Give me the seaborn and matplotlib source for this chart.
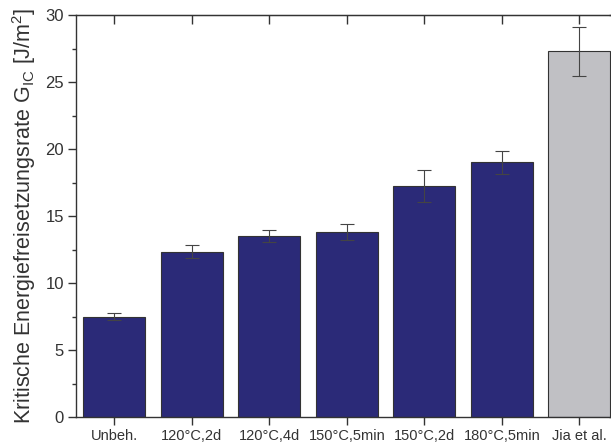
import matplotlib
matplotlib.use("Agg")
import matplotlib.pyplot as plt
import seaborn as sns
import pandas as pd
from matplotlib.ticker import MultipleLocator

# Werte
kategorien = ['Unbeh.', '120°C,2d', '120°C,4d', '150°C,5min', '150°C,2d', '180°C,5min', 'Jia et al.']
g_ic = [7.5, 12.35, 13.5, 13.8, 17.25, 19.02, 27.28]
fehler = [0.25, 0.5, 0.45, 0.6, 1.22, 0.85, 1.8]
farben = ['#2b2a78'] * 6 + ['#c0c0c4']

sns.set_style('ticks')
plt.rcParams['font.family'] = ['Liberation Sans', 'DejaVu Sans']
plt.rcParams['mathtext.fontset'] = 'custom'
plt.rcParams['mathtext.rm'] = 'Liberation Sans'

df = pd.DataFrame({'kategorie': kategorien, 'wert': g_ic})

fig = plt.figure(figsize=(6.11, 4.48), dpi=100)
ax = fig.add_axes([0.1237, 0.0685, 0.888, 0.898])

sns.barplot(data=df, x='kategorie', y='wert', hue='kategorie', palette=farben,
            legend=False, errorbar=None, width=0.8, edgecolor='#333333',
            linewidth=0.8, saturation=1, ax=ax)
ax.errorbar(range(len(kategorien)), g_ic, yerr=fehler, fmt='none',
            ecolor='#444444', elinewidth=0.8, capsize=5, capthick=0.8)

ax.set_xlim(-0.5, 6.5)
ax.set_ylim(0, 30)
ax.yaxis.set_major_locator(MultipleLocator(5))
ax.yaxis.set_minor_locator(MultipleLocator(2.5))

for s in ax.spines.values():
    s.set_linewidth(1.0)
    s.set_color('#333333')

ax.tick_params(axis='y', which='major', direction='out', length=5.5, width=1,
               labelsize=12, colors='#333333', labelcolor='#333333', pad=3)
ax.tick_params(axis='y', which='minor', direction='out', length=3, width=1,
               colors='#333333')
ax.tick_params(axis='x', which='major', direction='out', length=5.5, width=1,
               labelsize=10.5, colors='#333333', labelcolor='#333333', pad=3)

# Ticks oben und rechts nach innen
top = ax.secondary_xaxis('top')
top.set_xticks(range(len(kategorien)))
top.set_xticklabels([])
top.tick_params(direction='in', length=6.5, width=1, colors='#333333')
right = ax.secondary_yaxis('right')
right.yaxis.set_major_locator(MultipleLocator(5))
right.yaxis.set_minor_locator(MultipleLocator(2.5))
right.set_yticklabels([])
right.tick_params(which='major', direction='in', length=6.5, width=1, colors='#333333')
right.tick_params(which='minor', direction='in', length=3.5, width=1, colors='#333333')

ax.set_xlabel('')
ax.set_ylabel(r'Kritische Energiefreisetzungsrate G$_\mathregular{IC}$ [J/m$^\mathregular{2}$]',
              fontsize=15.5, color='#333333', labelpad=5)

fig.savefig('out.png', dpi=100)
